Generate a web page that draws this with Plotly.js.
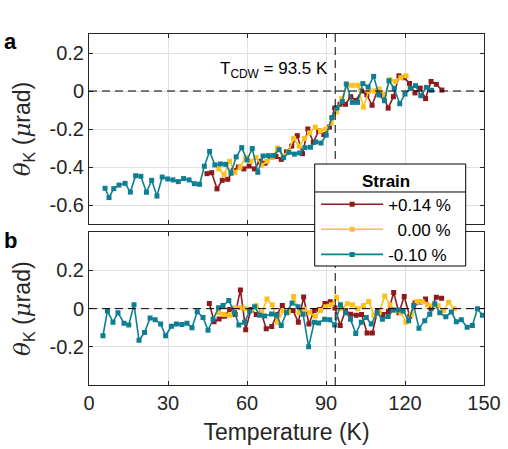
<!DOCTYPE html>
<html>
<head>
<meta charset="utf-8">
<script src="https://cdn.plot.ly/plotly-3.0.1.min.js"></script>
<style>html,body{margin:0;padding:0;background:#fff;}#chart{width:508px;height:449px;}</style>
</head>
<body>
<div id="chart"></div>
<script>
// ---- Panel a (top) ----
const tealTopT = [6.1,7.6,9.4,11.4,13.7,15.7,17.7,19.7,21.8,23.8,25.8,27.8,29.9,31.9,33.9,35.9,38.0,40.0,42.0,43.8,45.8,47.8,49.9,51.9,53.9,55.9,58.0,60.0,62.0,64.1,66.1,68.1,70.1,72.2,73.9,75.9,78.0,80.0,82.0,84.1,86.1,88.1,90.1,92.2,94.2,96.2,97.7,100.0,102.0,104.0,106.0,108.1,110.1,112.2,113.9,115.9,118.0,120.0,122.0,124.0,126.0,128.1,130.1];
const tealTopV = [-0.512,-0.561,-0.514,-0.495,-0.486,-0.532,-0.446,-0.449,-0.533,-0.470,-0.553,-0.453,-0.463,-0.468,-0.477,-0.461,-0.468,-0.488,-0.491,-0.396,-0.318,-0.389,-0.384,-0.386,-0.433,-0.347,-0.298,-0.363,-0.303,-0.428,-0.342,-0.340,-0.340,-0.309,-0.351,-0.323,-0.332,-0.326,-0.298,-0.296,-0.268,-0.274,-0.232,-0.140,-0.089,-0.056,0.037,-0.06,-0.06,0.039,0.021,0.077,-0.021,-0.051,0.054,0.014,-0.067,-0.016,0.014,0.028,-0.025,0.019,0.004];
const redTopT = [44.8,46.6,48.6,50.6,52.7,54.7,56.7,58.8,60.8,62.8,64.9,66.9,68.9,71.0,73.0,75.0,77.0,79.1,81.1,83.1,85.2,87.2,89.2,91.3,93.3,95.3,97.4,99.4,101.4,103.5,105.5,107.5,109.5,111.6,113.6,115.6,117.7,119.7,121.7,123.8,125.8,127.8,129.9,131.9,134.0];
const redTopV = [-0.435,-0.43,-0.515,-0.47,-0.465,-0.42,-0.40,-0.41,-0.395,-0.41,-0.37,-0.38,-0.35,-0.345,-0.36,-0.32,-0.29,-0.235,-0.33,-0.20,-0.27,-0.21,-0.23,-0.19,-0.09,-0.07,-0.07,-0.03,-0.05,0.0,-0.02,-0.075,0.0,-0.02,-0.09,-0.03,0.08,0.07,0.04,-0.01,0.015,-0.04,0.05,0.035,0.005];
const yelTopT = [49.3,51.3,53.4,55.4,57.4,59.5,61.5,63.5,65.6,67.6,69.6,71.6,73.7,75.7,77.7,79.8,81.8,83.8,85.9,87.9,89.9,92.0,94.0,96.0,98.1,100.1,102.1,104.2,106.2,108.2,110.2,112.3,114.3,116.3,118.4,120.4];
const yelTopV = [-0.41,-0.44,-0.37,-0.43,-0.40,-0.35,-0.37,-0.35,-0.39,-0.37,-0.35,-0.30,-0.34,-0.32,-0.25,-0.29,-0.25,-0.22,-0.19,-0.21,-0.20,-0.17,-0.11,-0.04,0.03,0.03,0.03,-0.085,0.0,0.0,0.01,-0.02,0.06,0.05,0.07,0.08];

// ---- Panel b (bottom) ----
const tealBotT = [5.3,7.0,9.1,11.0,13.3,15.1,17.1,19.0,21.1,23.2,25.1,27.2,29.1,31.3,33.2,35.3,37.2,39.1,41.1,43.3,45.2,47.1,49.2,50.9,53.1,55.3,56.9,59.1,61.0,62.9,64.8,66.7,69.3,71.2,73.0,75.0,77.1,79.4,81.3,83.4,85.5,87.2,89.5,91.4,93.3,95.5,97.5,99.3,101.3,103.4,105.3,107.2,109.4,111.4,113.6,115.5,117.4,119.3,121.4,123.3,125.3,127.5,129.4,131.3,133.2,135.5,137.6,139.5,141.4,143.6,145.6,147.5,149.4];
const tealBotV = [-0.142,-0.012,-0.071,-0.021,-0.077,-0.085,0.021,-0.166,-0.125,-0.049,-0.058,-0.08,-0.142,-0.092,-0.08,-0.083,-0.076,-0.1,-0.016,-0.046,-0.113,-0.055,0.005,0.016,0.043,-0.021,-0.085,-0.071,-0.012,0.01,-0.034,-0.038,-0.028,-0.034,-0.088,-0.021,0.03,0.01,-0.029,-0.2,-0.071,-0.075,-0.055,-0.058,-0.085,0.021,-0.021,-0.055,-0.13,-0.071,-0.046,-0.08,-0.021,-0.055,-0.041,-0.007,-0.007,-0.012,-0.063,0.016,-0.102,-0.063,-0.029,0.026,-0.021,-0.043,-0.017,-0.068,-0.058,-0.097,-0.088,0.0,-0.034];
const redBotT = [45.7,47.5,49.4,51.4,53.4,55.5,57.5,59.5,61.5,63.5,65.4,67.3,69.4,71.4,73.4,75.4,77.5,79.5,81.5,83.5,85.5,87.6,89.6,91.6,93.4,95.4,97.4,99.4,101.5,103.5,105.6,107.6,109.6,111.6,113.7,115.7,117.7,119.7,121.8,123.8,125.8,127.8,129.9,131.9,133.9];
const redBotV = [0.027,-0.068,-0.054,-0.04,-0.004,-0.03,0.098,-0.11,-0.004,-0.03,-0.02,-0.105,-0.093,-0.03,0.017,-0.02,-0.01,-0.071,0.061,-0.08,-0.01,-0.005,0.027,0.036,0.004,-0.088,-0.01,-0.029,-0.035,-0.03,-0.127,-0.127,-0.01,-0.03,-0.015,0.085,-0.021,0.064,-0.04,0.03,0.035,0.05,0.0,0.06,0.055];
const yelBotT = [49.3,51.3,53.4,55.4,57.4,59.5,61.5,63.5,65.6,67.6,69.6,71.6,73.7,75.7,77.7,79.8,81.8,83.8,85.9,87.9,89.9,92.0,94.0,96.0,98.1,100.1,102.1,104.2,106.2,108.2,110.2,112.3,114.3,116.3,118.4,120.4,122.4,124.5,126.5,128.5,130.6,132.6,134.6,136.6,138.7];
const yelBotV = [-0.021,-0.03,-0.035,0.005,0.005,0.0,-0.01,0.016,-0.02,0.05,0.021,-0.071,-0.01,-0.02,0.064,-0.02,-0.005,-0.02,-0.04,-0.01,0.01,0.02,0.06,0.0,0.026,0.02,0.0,0.016,0.038,-0.034,-0.02,0.067,0.02,-0.01,-0.02,-0.071,-0.03,0.038,0.038,0.02,0.015,0.015,-0.01,0.033,0.0];

const seriesNames = ['+0.14 %', '\u20070.00 %', '-0.10 %'];
const xTicks = [0, 30, 60, 90, 120, 150];
const yTicksTop = [-0.6, -0.4, -0.2, 0, 0.2];
const yTickTextTop = ['-0.6', '-0.4', '-0.2', '0', '0.2'];
const yTicksBot = [-0.2, 0, 0.2];
const yTickTextBot = ['-0.2', '0', '0.2'];
const tCDW = 93.5;

const RED = '#8E1A1E', YEL = '#FDC11A', TEAL = '#0F7E93';
function tr(x, y, name, color, xa, ya, show) {
  return {x: x, y: y, name: name, type: 'scatter', mode: 'lines+markers',
    xaxis: xa, yaxis: ya, showlegend: show, legendgroup: name,
    line: {color: color, width: 1.6},
    marker: {symbol: 'square', size: 5, color: color}};
}
const data = [
  tr(redTopT, redTopV, seriesNames[0], RED, 'x2', 'y2', true),
  tr(yelTopT, yelTopV, seriesNames[1], YEL, 'x2', 'y2', true),
  tr(tealTopT, tealTopV, seriesNames[2], TEAL, 'x2', 'y2', true),
  tr(redBotT, redBotV, seriesNames[0], RED, 'x', 'y', false),
  tr(yelBotT, yelBotV, seriesNames[1], YEL, 'x', 'y', false),
  tr(tealBotT, tealBotV, seriesNames[2], TEAL, 'x', 'y', false)
];

const FONT = 'Liberation Sans, Arial, Helvetica, sans-serif';
const TXT = '#262626';
const axBase = {
  showline: true, linecolor: '#262626', linewidth: 1, mirror: 'ticks',
  ticks: 'inside', ticklen: 4, tickcolor: '#262626', tickwidth: 1,
  showgrid: true, gridcolor: '#E0E0E0', gridwidth: 1, zeroline: false,
  tickfont: {family: FONT, size: 20, color: TXT}
};
const yTitle = '<span style="font-family:DejaVu Serif,Liberation Serif,serif"><i>θ</i></span><sub>K</sub> (<span style="font-family:DejaVu Serif,Liberation Serif,serif"><i>μ</i></span>rad)';

const layout = {
  width: 508, height: 449,
  margin: {l: 89, r: 24, t: 34, b: 64},
  paper_bgcolor: '#fff', plot_bgcolor: '#fff',
  font: {family: FONT, color: TXT},
  xaxis: Object.assign({}, axBase, {domain: [0, 1], anchor: 'y', range: [0, 150],
    tickvals: xTicks, ticktext: xTicks.map(String),
    title: {text: 'Temperature (K)', font: {family: FONT, size: 23, color: TXT}, standoff: 10}}),
  yaxis: Object.assign({}, axBase, {domain: [0, 0.435], anchor: 'x', range: [-0.4, 0.4],
    tickvals: yTicksBot, ticktext: yTickTextBot,
    title: {text: yTitle, font: {family: FONT, size: 23, color: TXT}, standoff: 12}}),
  xaxis2: Object.assign({}, axBase, {domain: [0, 1], anchor: 'y2', range: [0, 150],
    tickvals: xTicks, showticklabels: false, matches: 'x'}),
  yaxis2: Object.assign({}, axBase, {domain: [0.4587, 1], anchor: 'x2', range: [-0.7, 0.3],
    tickvals: yTicksTop, ticktext: yTickTextTop,
    title: {text: yTitle, font: {family: FONT, size: 23, color: TXT}, standoff: 12}}),
  showlegend: true,
  legend: {
    x: 0.575, xanchor: 'left', y: 0.628, yanchor: 'top',
    bgcolor: 'rgba(0,0,0,0)', borderwidth: 0,
    font: {family: FONT, size: 17, color: '#000'},
    title: {text: '<b>Strain</b>', side: 'top center', font: {family: FONT, size: 17, color: '#000'}},
    itemwidth: 62, tracegroupgap: 0, traceorder: 'normal'
  },
  shapes: [
    {type: 'line', xref: 'x2 domain', yref: 'y2', x0: 0, x1: 1, y0: 0, y1: 0, line: {color: '#000', width: 1, dash: '8px,5px'}, layer: 'above'},
    {type: 'line', xref: 'x domain', yref: 'y', x0: 0, x1: 1, y0: 0, y1: 0, line: {color: '#000', width: 1, dash: '8px,5px'}, layer: 'above'},
    {type: 'line', xref: 'x2', yref: 'y2 domain', x0: tCDW, x1: tCDW, y0: 0, y1: 1, line: {color: '#000', width: 1, dash: '8px,5px'}, layer: 'above'},
    {type: 'line', xref: 'x', yref: 'y domain', x0: tCDW, x1: tCDW, y0: 0, y1: 1, line: {color: '#000', width: 1, dash: '8px,5px'}, layer: 'above'},
    {type: 'rect', xref: 'paper', yref: 'paper', x0: 0.5714, x1: 0.9537, y0: 0.339, y1: 0.6296, fillcolor: '#fff', line: {color: '#000', width: 1}, layer: 'above'},
    {type: 'line', xref: 'paper', yref: 'paper', x0: 0.5714, x1: 0.9537, y0: 0.5499, y1: 0.5499, line: {color: '#000', width: 1}, layer: 'above'}
  ],
  annotations: [
    {text: 'T<sub>CDW</sub> = 93.5 K', xref: 'x2', yref: 'y2', x: tCDW, y: 0.11, xanchor: 'right', yanchor: 'middle', xshift: -5, showarrow: false, font: {family: FONT, size: 17, color: '#000'}},
    {text: '<b>a</b>', xref: 'paper', yref: 'paper', x: -0.2, y: 0.98, xanchor: 'center', yanchor: 'middle', showarrow: false, font: {family: FONT, size: 22, color: '#000'}},
    {text: '<b>b</b>', xref: 'paper', yref: 'paper', x: -0.2, y: 0.413, xanchor: 'center', yanchor: 'middle', showarrow: false, font: {family: FONT, size: 22, color: '#000'}}
  ]
};
Plotly.newPlot('chart', data, layout, {displayModeBar: false, staticPlot: true});
</script>
</body>
</html>
